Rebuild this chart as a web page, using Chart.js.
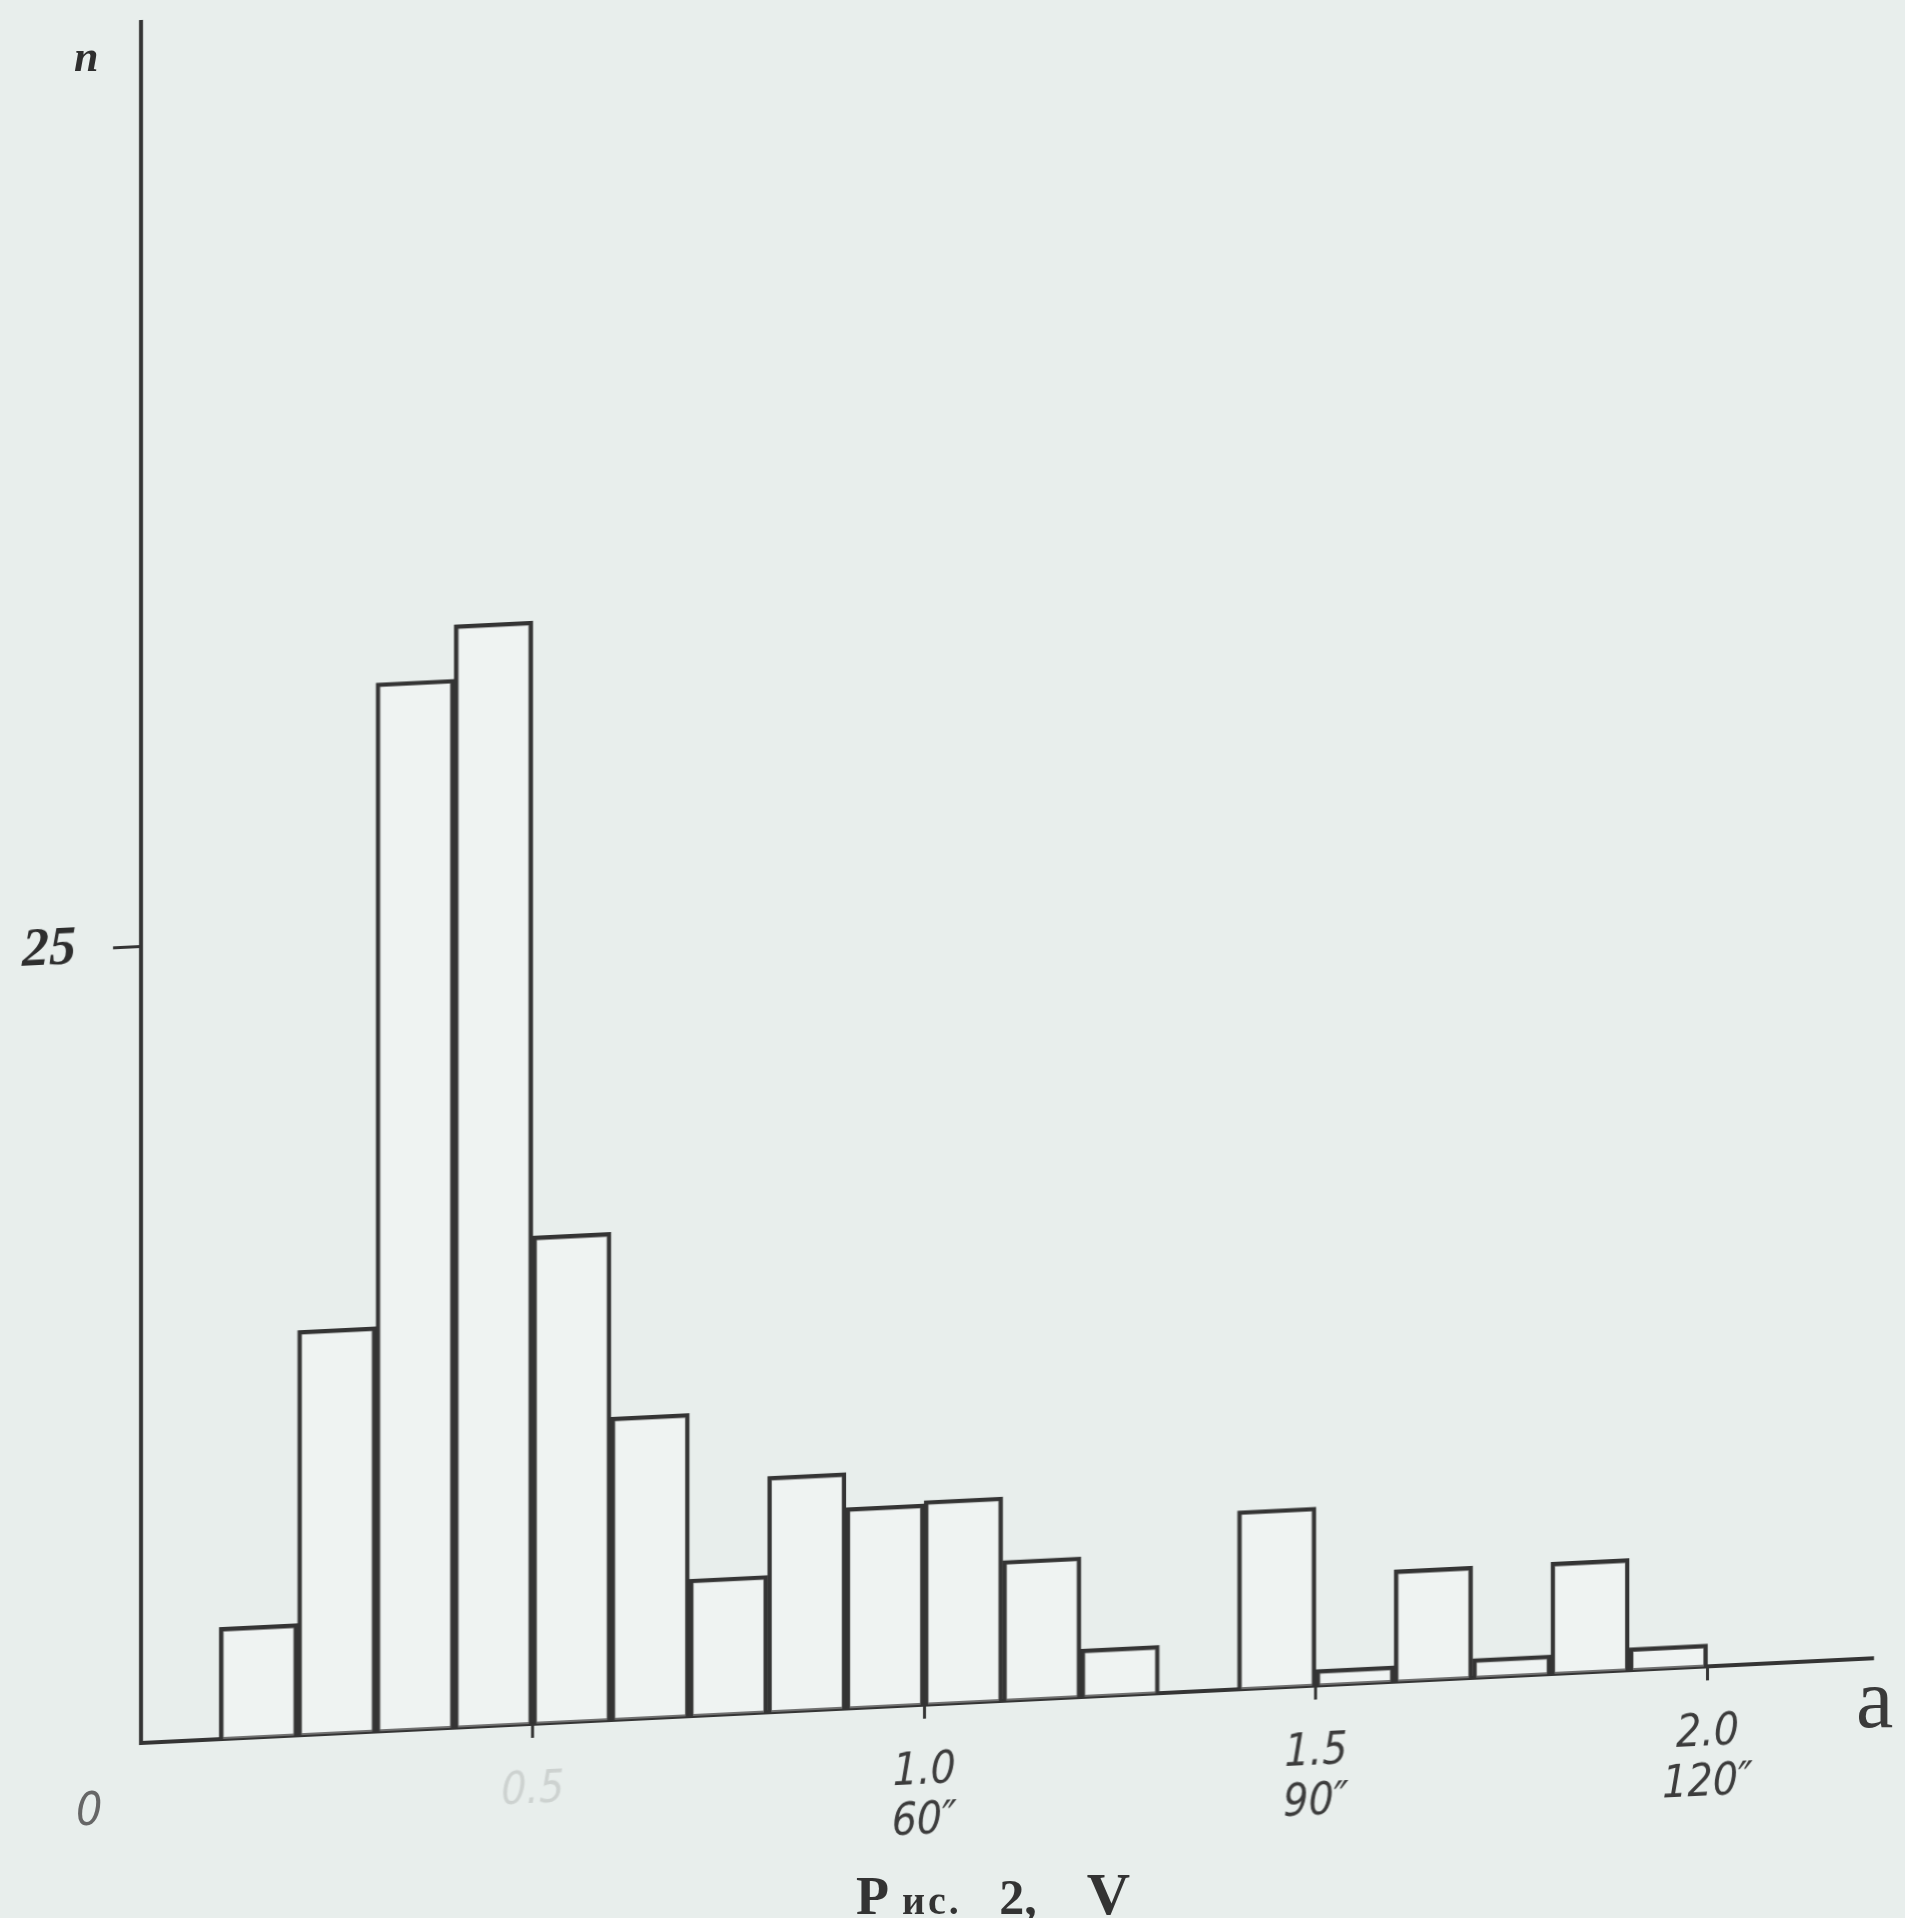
<!DOCTYPE html>
<html>
<head>
<meta charset="utf-8">
<title>Рис. 2, V</title>
<script src="https://cdn.jsdelivr.net/npm/chart.js@4.4.1/dist/chart.umd.min.js"></script>
<style>
  html, body { margin: 0; padding: 0; background: #e8eeec; }
  #wrap { position: relative; width: 1905px; height: 1918px; overflow: hidden; }
  /* the printed baseline rises to the right, so the canvas is sheared a little */
  #chart { position: absolute; left: 0; top: 0; transform-origin: 141px 1743px; transform: skewY(-2.8deg); }
  .txt { position: absolute; line-height: 1; white-space: nowrap; color: #2e2e2e; }
  #nlabel { left: 74px; top: 31px; font: italic bold 44px "Liberation Serif", serif; }
  #alabel { left: 1856px; top: 1650px; font: 84px "Liberation Serif", serif; color: #3a3a3a; }
  #zero { left: 76px; top: 1782px; font: italic 46px "Liberation Sans Narrow", "DejaVu Sans Condensed", "Liberation Sans", sans-serif; color: #666; }
  #caption { left: 856px; top: 1864px; font-family: "Liberation Serif", serif; font-weight: bold; color: #333; }
</style>
</head>
<body>
<div id="wrap">
  <canvas id="chart" width="1905" height="1918"></canvas>
  <div class="txt" id="nlabel">n</div>
  <div class="txt" id="alabel">a</div>
  <div class="txt" id="zero">0</div>
  <div class="txt" id="caption"><span style="font-size:54px">Р</span><span style="font-size:40px; letter-spacing:3px">&nbsp;ис.</span><span style="font-size:50px">&nbsp;&nbsp;&nbsp;2,&nbsp;&nbsp;&nbsp;&nbsp;</span><span style="font-size:60px">V</span></div>
</div>
<script>
// histogram bins (left edge of each 0.1 wide bin) and their heights
const binLeft = [0.1, 0.2, 0.3, 0.4, 0.5, 0.6, 0.7, 0.8, 0.9, 1.0, 1.1, 1.2, 1.3, 1.4, 1.5, 1.6, 1.7, 1.8, 1.9];
const counts  = [3.5, 12.7, 32.9, 34.6, 15.3, 9.5, 4.3, 7.4, 6.3, 6.4, 4.4, 1.5, null, 5.6, 0.5, 3.5, 0.6, 3.5, 0.7];
const binWidth = 0.1;

const xTickValues = [0.5, 1.0, 1.5, 2.0];
const xTickLabels = ["0.5", "1.0", "1.5", "2.0"];
const xTickSeconds = ["", "60″", "90″", "120″"];
const yTickValues = [25];

const ink = "#343434";

const points = binLeft.map((left, i) => ({ x: +(left + binWidth / 2).toFixed(2), y: counts[i] }));

new Chart(document.getElementById("chart"), {
    type: "bar",
    data: {
        datasets: [{
            data: points,
            backgroundColor: "rgba(255,255,255,0.3)",
            borderColor: ink,
            borderWidth: 4,
            borderSkipped: "bottom",
            barPercentage: 1,
            categoryPercentage: 1
        }]
    },
    options: {
        responsive: false,
        animation: false,
        layout: { padding: { top: 22, right: 33, left: 0, bottom: 0 } },
        plugins: { legend: { display: false }, tooltip: { enabled: false } },
        scales: {
            x: {
                type: "linear",
                min: 0,
                max: 2.21,
                offset: false,
                afterFit: s => { s.height = 175; s.paddingLeft = 0; s.paddingRight = 0; },
                afterBuildTicks: s => { s.ticks = xTickValues.map(v => ({ value: v })); },
                border: { display: true, color: ink, width: 4 },
                grid: { display: true, drawOnChartArea: false, drawTicks: true, tickLength: 14, color: ink, lineWidth: 3, offset: false },
                ticks: {
                    autoSkip: false,
                    maxRotation: 0,
                    padding: 28,
                    font: { family: '"Liberation Sans Narrow", "DejaVu Sans Condensed", "Liberation Sans", sans-serif', size: 44, style: "italic", lineHeight: 1.15 },
                    color: c => (c.index === 0 ? "#cdd2d0" : "#3c3c3c"),
                    callback: (value, index) => xTickSeconds[index] ? [xTickLabels[index], xTickSeconds[index]] : xTickLabels[index]
                }
            },
            y: {
                min: 0,
                max: 54,
                afterFit: s => { s.width = 141; s.paddingTop = 0; s.paddingBottom = 0; },
                afterBuildTicks: s => { s.ticks = yTickValues.map(v => ({ value: v })); },
                border: { display: true, color: ink, width: 4 },
                grid: { display: true, drawOnChartArea: false, drawTicks: true, tickLength: 28, color: ink, lineWidth: 3 },
                ticks: {
                    padding: 37,
                    color: "#2e2e2e",
                    font: { family: '"Liberation Serif", serif', size: 54, style: "italic", weight: "bold" },
                    callback: value => String(value)
                }
            }
        }
    }
});
</script>
</body>
</html>
